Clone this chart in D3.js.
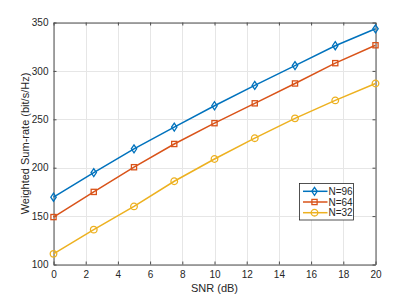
<!DOCTYPE html>
<html><head><meta charset="utf-8">
<script src="https://cdn.jsdelivr.net/npm/d3@7"></script>
<style>body{margin:0;background:#fff}svg{display:block}text{font-family:"Liberation Sans",Arial,sans-serif}</style>
</head><body><svg id="c" width="415" height="297"></svg>
<script>
const snr = [0, 2.5, 5, 7.5, 10, 12.5, 15, 17.5, 20];
const n96 = [169.5, 195, 219.5, 242, 264, 285, 305.5, 326, 343.5];
const n64 = [149, 175, 200.5, 224.5, 246, 266.5, 287, 308, 326.5];
const n32 = [111, 136, 160, 186, 209, 230.5, 251, 269.5, 287];
const seriesNames = ["N=96", "N=64", "N=32"];
const colors = ["#0072BD", "#D95319", "#EDB120"];
const markers = ["diamond", "square", "circle"];
const xTicks = [0, 2, 4, 6, 8, 10, 12, 14, 16, 18, 20];
const yTicks = [100, 150, 200, 250, 300, 350];

const svg = d3.select("#c");
const L = 53.5, R = 375.5, T = 22.5, B = 264.5;
const x = d3.scaleLinear().domain([0, 20]).range([L, R]);
const y = d3.scaleLinear().domain([100, 350]).range([B, T]);

// grid
const g = svg.append("g");
g.selectAll(".gx").data(xTicks).enter().append("line")
  .attr("x1", d => Math.round(x(d)) + 0.5).attr("x2", d => Math.round(x(d)) + 0.5)
  .attr("y1", T).attr("y2", B).attr("stroke", "#e6e6e6").attr("stroke-width", 1);
g.selectAll(".gy").data(yTicks).enter().append("line")
  .attr("y1", d => Math.round(y(d)) + 0.5).attr("y2", d => Math.round(y(d)) + 0.5)
  .attr("x1", L).attr("x2", R).attr("stroke", "#e6e6e6").attr("stroke-width", 1);

// axes
const axCol = "#4d4d4d";
const xb = svg.append("g").attr("transform", `translate(0,${B})`)
  .call(d3.axisBottom(x).tickValues(xTicks).tickSizeInner(-3).tickSizeOuter(0).tickPadding(6));
const xt = svg.append("g").attr("transform", `translate(0,${T})`)
  .call(d3.axisTop(x).tickValues(xTicks).tickSizeInner(-3).tickSizeOuter(0).tickFormat(""));
const yl = svg.append("g").attr("transform", `translate(${L},0)`)
  .call(d3.axisLeft(y).tickValues(yTicks).tickSizeInner(-3).tickSizeOuter(0).tickPadding(5));
const yr = svg.append("g").attr("transform", `translate(${R},0)`)
  .call(d3.axisRight(y).tickValues(yTicks).tickSizeInner(-3).tickSizeOuter(0).tickFormat(""));
[xb, xt, yl, yr].forEach(a => {
  a.selectAll("path,line").attr("stroke", axCol);
  a.selectAll("text").attr("fill", "#262626").style("font-size", "10px").style("font-family", '"Liberation Sans",Arial,sans-serif');
});

svg.append("text").attr("x", (L + R) / 2).attr("y", 292).attr("text-anchor", "middle")
  .attr("fill", "#262626").style("font-size", "11px").text("SNR (dB)");
svg.append("text").attr("transform", `translate(29,${(T + B) / 2}) rotate(-90)`).attr("text-anchor", "middle")
  .attr("fill", "#262626").style("font-size", "11px").text("Weighted Sum-rate (bit/s/Hz)");

const data = [n96, n64, n32];
function marker(sel, type, color) {
  if (type === "circle") sel.append("circle").attr("r", 3.3);
  else if (type === "square") sel.append("rect").attr("x", -2.6).attr("y", -2.6).attr("width", 5.2).attr("height", 5.2);
  else sel.append("path").attr("d", "M0,-4L2.7,0L0,4L-2.7,0Z");
  sel.selectAll("*").attr("fill", "none").attr("stroke", color).attr("stroke-width", 1.3);
}
const line = d3.line().x((d, i) => x(snr[i])).y(d => y(d));
data.forEach((vals, k) => {
  svg.append("path").datum(vals).attr("d", line).attr("fill", "none")
    .attr("stroke", colors[k]).attr("stroke-width", 1.5);
  svg.append("g").selectAll("g").data(vals).enter().append("g")
    .attr("transform", (d, i) => `translate(${x(snr[i])},${y(d)})`)
    .each(function () { marker(d3.select(this), markers[k], colors[k]); });
});

// legend
const lg = svg.append("g");
lg.append("rect").attr("x", 299.5).attr("y", 183.5).attr("width", 54).attr("height", 36.5)
  .attr("fill", "#fff").attr("stroke", "#262626").attr("stroke-width", 0.8);
seriesNames.forEach((nm, k) => {
  const yy = 191.3 + k * 10.7;
  lg.append("line").attr("x1", 303).attr("x2", 327.5).attr("y1", yy).attr("y2", yy)
    .attr("stroke", colors[k]).attr("stroke-width", 1.5);
  const m = lg.append("g").attr("transform", `translate(314.5,${yy})`);
  marker(m, markers[k], colors[k]);
  lg.append("text").attr("x", 328.5).attr("y", yy + 3.5).attr("fill", "#262626")
    .style("font-size", "10px").text(nm);
});
</script></body></html>
